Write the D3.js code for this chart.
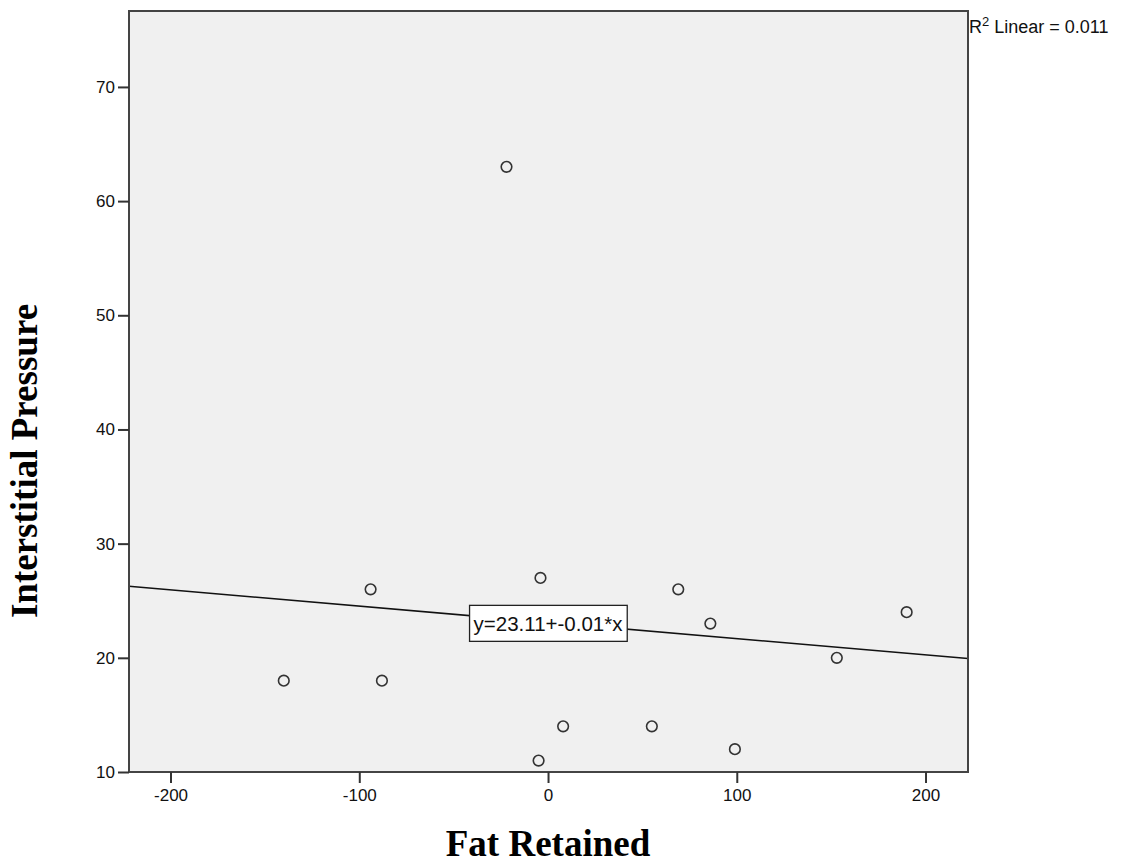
<!DOCTYPE html>
<html>
<head>
<meta charset="utf-8">
<script src="https://cdn.jsdelivr.net/npm/d3@7"></script>
<style>
  body { margin: 0; background: #fff; }
  svg { display: block; }
</style>
</head>
<body>
<svg id="chart" width="1130" height="867"></svg>
<script>
// data
const fatRetained = [-140, -94, -88, -22, -5, -4, 8, 55, 69, 86, 99, 153, 190];
const interstitialPressure = [18, 26, 18, 63, 11, 27, 14, 14, 26, 23, 12, 20, 24];
const xTicks = [-200, -100, 0, 100, 200];
const yTicks = [10, 20, 30, 40, 50, 60, 70];
const fitLabel = "y=23.11+-0.01*x";
const r2Label = "0.011";

const width = 1130,
  height = 867;
const margin = { top: 11, right: 162, bottom: 95, left: 129 };
const sans = "Liberation Sans, Arial, sans-serif";
const serif = "Liberation Serif, Times New Roman, serif";

const svg = d3.select("#chart");

const x = d3
  .scaleLinear()
  .domain([-222, 222.5])
  .range([margin.left, width - margin.right]);

const y = d3
  .scaleLinear()
  .domain([10, 76.65])
  .range([height - margin.bottom, margin.top]);

// plot background
svg
  .append("rect")
  .attr("x", x.range()[0])
  .attr("y", y.range()[1])
  .attr("width", x.range()[1] - x.range()[0])
  .attr("height", y.range()[0] - y.range()[1])
  .attr("fill", "#f0f0f0");

// least squares fit
const mx = d3.mean(fatRetained),
  my = d3.mean(interstitialPressure);
let sxy = 0,
  sxx = 0;
fatRetained.forEach((v, i) => {
  sxy += (v - mx) * (interstitialPressure[i] - my);
  sxx += (v - mx) * (v - mx);
});
const slope = sxy / sxx;
const intercept = my - slope * mx;
const [x0, x1] = x.domain();

svg
  .append("line")
  .attr("x1", x(x0))
  .attr("y1", y(intercept + slope * x0))
  .attr("x2", x(x1))
  .attr("y2", y(intercept + slope * x1))
  .attr("stroke", "#111")
  .attr("stroke-width", 1.6);

// points
svg
  .append("g")
  .selectAll("circle")
  .data(fatRetained)
  .join("circle")
  .attr("cx", (d) => x(d))
  .attr("cy", (d, i) => y(interstitialPressure[i]))
  .attr("r", 5.3)
  .attr("fill", "none")
  .attr("stroke", "#333")
  .attr("stroke-width", 1.6);

// equation label box, centred on the fit line at x = 0
const lab = svg.append("g").attr("transform", `translate(${x(0)},${y(intercept) + 1})`);
const labText = lab
  .append("text")
  .attr("text-anchor", "middle")
  .attr("dy", "0.36em")
  .style("font-family", sans)
  .style("font-size", "20.5px")
  .attr("fill", "#111")
  .text(fitLabel);
const bb = labText.node().getBBox();
lab
  .insert("rect", "text")
  .attr("x", bb.x - 4)
  .attr("y", -18)
  .attr("width", bb.width + 8)
  .attr("height", 36)
  .attr("fill", "#fff")
  .attr("stroke", "#222")
  .attr("stroke-width", 1.3);

// frame
svg
  .append("rect")
  .attr("x", x.range()[0])
  .attr("y", y.range()[1])
  .attr("width", x.range()[1] - x.range()[0])
  .attr("height", y.range()[0] - y.range()[1])
  .attr("fill", "none")
  .attr("stroke", "#444")
  .attr("stroke-width", 2);

// axes (plain hyphen for negatives, as in the original)
const fmt = (d) => String(d);
const xAxis = svg
  .append("g")
  .attr("transform", `translate(0,${y.range()[0]})`)
  .call(d3.axisBottom(x).tickValues(xTicks).tickFormat(fmt).tickSize(11).tickSizeOuter(0).tickPadding(6));
const yAxis = svg
  .append("g")
  .attr("transform", `translate(${x.range()[0]},0)`)
  .call(d3.axisLeft(y).tickValues(yTicks).tickFormat(fmt).tickSize(11).tickSizeOuter(0).tickPadding(3));

[xAxis, yAxis].forEach((g) => {
  g.select(".domain").remove();
  g.selectAll(".tick line").attr("stroke", "#333").attr("stroke-width", 2);
  g.selectAll(".tick text")
    .attr("fill", "#111")
    .style("font-family", sans)
    .style("font-size", "17px");
});

// R squared note
const r2 = svg
  .append("text")
  .attr("x", x.range()[1] + 1)
  .attr("y", 33)
  .style("font-family", sans)
  .style("font-size", "18px")
  .attr("fill", "#111");
r2.append("tspan").text("R");
r2.append("tspan").attr("dy", -7).style("font-size", "13px").text("2");
r2.append("tspan").attr("dy", 7).text(" Linear = " + r2Label);

// axis titles
svg
  .append("text")
  .attr("x", x(0))
  .attr("y", 856)
  .attr("text-anchor", "middle")
  .style("font-family", serif)
  .style("font-weight", "bold")
  .style("font-size", "37px")
  .attr("fill", "#000")
  .text("Fat Retained");

svg
  .append("text")
  .attr("transform", `translate(37,461) rotate(-90)`)
  .attr("text-anchor", "middle")
  .style("font-family", serif)
  .style("font-weight", "bold")
  .style("font-size", "37px")
  .attr("fill", "#000")
  .text("Interstitial Pressure");
</script>
</body>
</html>
